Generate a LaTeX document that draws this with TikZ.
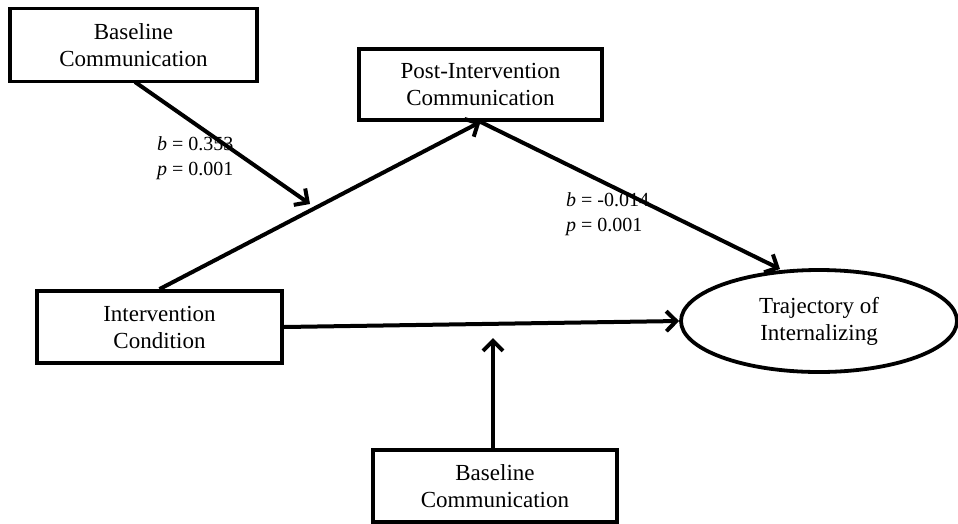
\documentclass[tikz,border=0pt]{standalone}
\usepackage{fontspec}
\setmainfont{Liberation Serif}
\usetikzlibrary{arrows.meta,shapes.geometric,calc}
\begin{document}
\begin{tikzpicture}[x=1pt,y=-1pt,
  box/.style={draw,line width=3.8pt,inner sep=0pt,align=center,font=\fontsize{23}{27}\selectfont},
  conn/.style={line width=4pt,-{Straight Barb[length=10pt,width=20pt,line width=4pt]}},
  lab/.style={align=left,font=\fontsize{20}{25}\selectfont,inner sep=0pt,anchor=north west}]
\useasboundingbox (0,0) rectangle (958,523);
\node[box,minimum width=247pt,minimum height=73pt] (bl1) at (133.5,45) {Baseline\\Communication};
\node[box,minimum width=243pt,minimum height=71pt] (post) at (480.5,84.5) {Post-Intervention\\Communication};
\node[box,minimum width=245pt,minimum height=72pt] (int) at (159.5,327) {Intervention\\Condition};
\node[draw,ellipse,line width=3.8pt,minimum width=276pt,minimum height=102pt,inner sep=0pt,align=center,font=\fontsize{23}{27}\selectfont] (traj) at (819,321) {Trajectory of\\Internalizing};
\node[box,minimum width=244pt,minimum height=72pt] (bl2) at (495,486) {Baseline\\Communication};
\coordinate (s1) at (135,82);
\coordinate (t1) at (310,204);
\coordinate (t2) at (780,269);
\coordinate (t3) at (493,338);
\draw[conn] (s1) -- (t1);
\draw[conn] (int.north) -- (post.south);
\draw[conn] (post.south) -- (t2);
\draw[conn] (int.east) -- (traj.west);
\draw[conn] (t3 |- bl2.north) -- (t3);
\node[lab] (l1) at (157,136) {\textit{b} = 0.353\\\textit{p} = 0.001};
\node[lab] (l2) at (566,192) {\textit{b} = -0.014\\\textit{p} = 0.001};
\end{tikzpicture}
\end{document}
